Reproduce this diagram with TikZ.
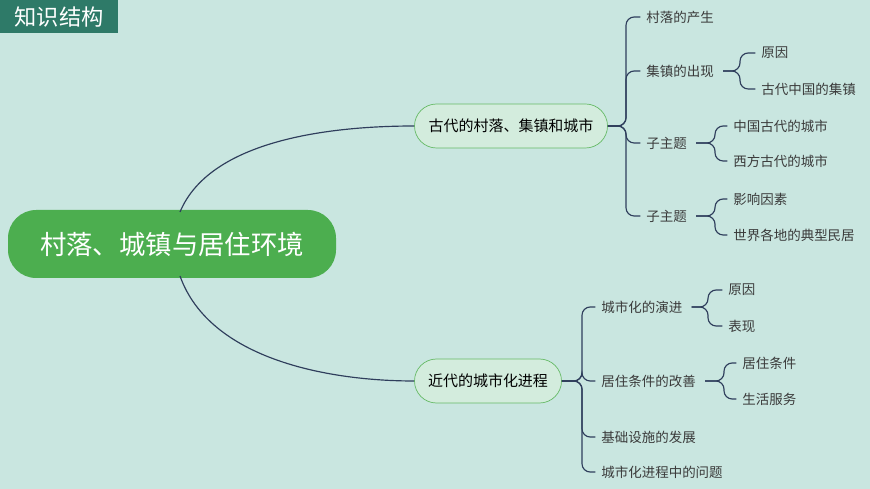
\documentclass[tikz,border=0pt]{standalone}
\usepackage{fontspec}
\setmainfont{Noto Sans CJK SC}
\begin{document}
\begin{tikzpicture}[x=0.03cm,y=-0.03cm,
  conn/.style={draw=lineC,line width=1pt,rounded corners=7pt},
  leaf/.style={anchor=west,inner sep=1pt,text=textC,font=\fontsize{11.5}{13}\selectfont},
  mid/.style={rounded corners=22*0.03cm,draw=green!55!black!60,fill=nodeC,line width=0.6pt,font=\fontsize{12.8}{14}\selectfont,text=black,minimum height=44*0.03cm,inner xsep=4pt}]
\definecolor{bgC}{HTML}{C9E6E0}
\definecolor{lineC}{HTML}{2F3E5C}
\definecolor{textC}{HTML}{3A3A3A}
\definecolor{nodeC}{HTML}{D3ECDD}
\definecolor{mainC}{HTML}{4CAE4F}
\definecolor{titleC}{HTML}{2E7A68}
\fill[bgC] (0,0) rectangle (870,489);
\useasboundingbox (0,0) rectangle (870,489);
\node[fill=titleC,text=white,minimum width=118*0.03cm,minimum height=33*0.03cm,anchor=north west,font=\fontsize{19}{21}\selectfont,inner sep=0pt] (title) at (0,0) {知识结构};
\node[fill=mainC,text=white,rounded corners=24pt,minimum width=328*0.03cm,minimum height=68*0.03cm,font=\fontsize{22.5}{25}\selectfont,inner xsep=2pt] (main) at (172,244) {村落、城镇与居住环境};
\node[mid,minimum width=193*0.03cm] (a) at (511,126) {古代的村落、集镇和城市};
\node[mid,minimum width=147*0.03cm] (b) at (488,381) {近代的城市化进程};
\draw[lineC,line width=1pt] (180,212) .. controls (210,140) and (330,126) .. (a.west);
\draw[lineC,line width=1pt] (180,276) .. controls (210,360) and (330,381) .. (b.west);
% level 2 top
\node[leaf] (a1) at (645,17) {村落的产生};
\node[leaf] (a2) at (645,71) {集镇的出现};
\node[leaf] (a3) at (645,143) {子主题};
\node[leaf] (a4) at (645,216) {子主题};
\coordinate (sa) at (626,126);
\foreach \c in {a1,a2,a3,a4} \draw[conn] (a.east) -- (sa) |- ([xshift=-4pt]\c.west);
\node[leaf] (a21) at (760,53) {原因};
\node[leaf] (a22) at (760,89) {古代中国的集镇};
\coordinate (sa2) at (740,71);
\foreach \c in {a21,a22} \draw[conn] (a2.east) ++(8,0) -- (sa2) |- ([xshift=-4pt]\c.west);
\node[leaf] (a31) at (732,126) {中国古代的城市};
\node[leaf] (a32) at (732,161) {西方古代的城市};
\coordinate (sa3) at (715,143);
\foreach \c in {a31,a32} \draw[conn] (a3.east) ++(8,0) -- (sa3) |- ([xshift=-4pt]\c.west);
\node[leaf] (a41) at (732,199) {影响因素};
\node[leaf] (a42) at (732,235) {世界各地的典型民居};
\coordinate (sa4) at (715,216);
\foreach \c in {a41,a42} \draw[conn] (a4.east) ++(8,0) -- (sa4) |- ([xshift=-4pt]\c.west);
% level 2 bottom
\node[leaf] (b1) at (600,307) {城市化的演进};
\node[leaf] (b2) at (600,381) {居住条件的改善};
\node[leaf] (b3) at (600,437) {基础设施的发展};
\node[leaf] (b4) at (600,472) {城市化进程中的问题};
\coordinate (sb) at (582,381);
\foreach \c in {b1,b2,b3,b4} \draw[conn] (b.east) -- (sb) |- ([xshift=-4pt]\c.west);
\node[leaf] (b11) at (727,290) {原因};
\node[leaf] (b12) at (727,326) {表现};
\coordinate (sb1) at (708,307);
\foreach \c in {b11,b12} \draw[conn] (b1.east) ++(8,0) -- (sb1) |- ([xshift=-4pt]\c.west);
\node[leaf] (b21) at (741,363) {居住条件};
\node[leaf] (b22) at (741,399) {生活服务};
\coordinate (sb2) at (724,381);
\foreach \c in {b21,b22} \draw[conn] (b2.east) ++(8,0) -- (sb2) |- ([xshift=-4pt]\c.west);
\end{tikzpicture}
\end{document}
